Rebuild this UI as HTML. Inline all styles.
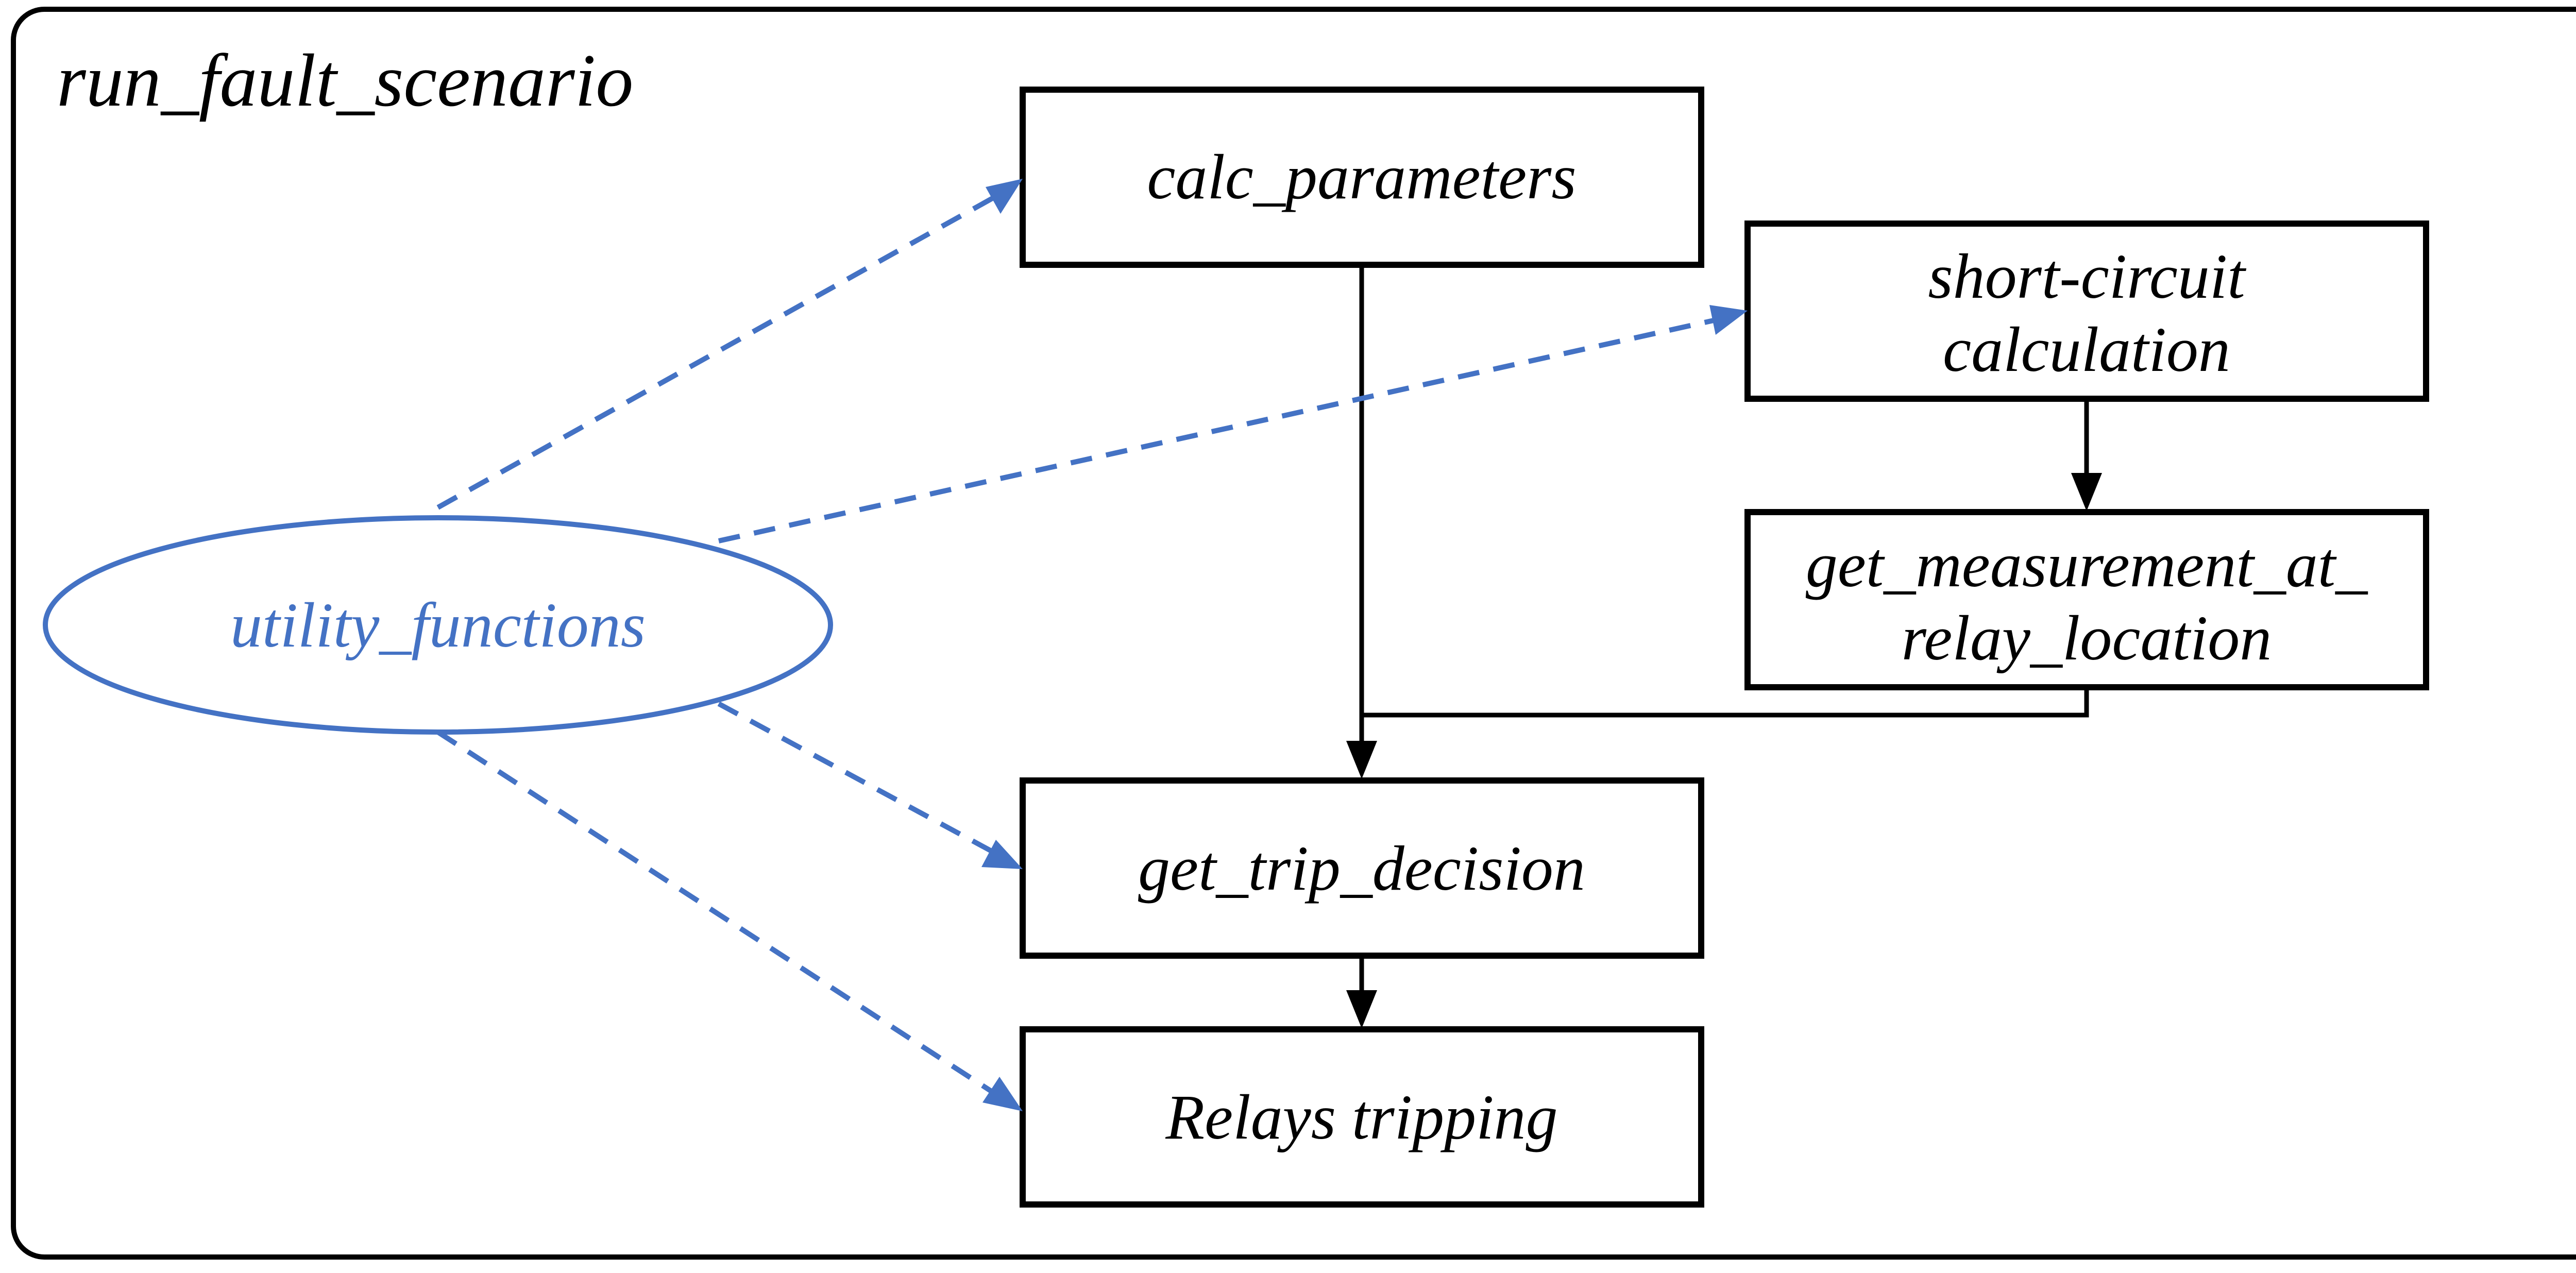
<!DOCTYPE html>
<html><head><meta charset="utf-8"><style>
html,body{margin:0;padding:0;background:#fff;}
svg{display:block;}
text{font-family:"Liberation Serif",serif;font-style:italic;}
</style></head><body>
<svg width="5087" height="2471" viewBox="0 0 5087 2471" xmlns="http://www.w3.org/2000/svg">
<rect x="26" y="18" width="5039" height="2422" rx="60" fill="none" stroke="#000" stroke-width="10"/>
<text x="110" y="205" font-size="146">run_fault_scenario</text>

<g fill="#fff" stroke="#000" stroke-width="12">
<rect x="1985" y="174" width="1317" height="340"/>
<rect x="3392" y="434" width="1317" height="340"/>
<rect x="3392" y="994" width="1317" height="340"/>
<rect x="1985" y="1515" width="1317" height="340"/>
<rect x="1985" y="1998" width="1317" height="340"/>
</g>
<g font-size="124" text-anchor="middle" fill="#000">
<text x="2643" y="385">calc_parameters</text>
<text x="4050" y="578">short-circuit</text>
<text x="4050" y="720">calculation</text>
<text x="4050" y="1138">get_measurement_at_</text>
<text x="4050" y="1280">relay_location</text>
<text x="2643" y="1727">get_trip_decision</text>
<text x="2643" y="2210">Relays tripping</text>
</g>

<g stroke="#000" stroke-width="9" fill="none">
<line x1="2643" y1="514" x2="2643" y2="1445"/>
<polyline points="4050,1334 4050,1388 2643,1388"/>
<line x1="4050" y1="774" x2="4050" y2="925"/>
<line x1="2643" y1="1855" x2="2643" y2="1930"/>
</g>
<g fill="#000">
<polygon points="2643,1512 2613,1438 2673,1438"/>
<polygon points="4050,992 4020,918 4080,918"/>
<polygon points="2643,1996 2613,1922 2673,1922"/>
</g>

<ellipse cx="850" cy="1213" rx="762" ry="208" fill="none" stroke="#4472C4" stroke-width="10"/>
<text x="850" y="1255" font-size="124" text-anchor="middle" fill="#4472C4">utility_functions</text>

<g stroke="#4472C4" stroke-width="10" stroke-dasharray="42,28" fill="none">
<line x1="850" y1="985" x2="1935" y2="380"/>
<line x1="1395" y1="1050" x2="3335" y2="620"/>
<line x1="1395" y1="1366" x2="1930" y2="1655"/>
<line x1="850" y1="1421" x2="1930" y2="2122"/>
</g>
<g fill="#4472C4">
<polygon points="1985,347 1942,415 1913,363"/>
<polygon points="3392,603 3330,650 3318,592"/>
<polygon points="1985,1687 1905,1683 1933,1630"/>
<polygon points="1985,2157 1907,2140 1940,2090"/>
</g>
</svg>
</body></html>
